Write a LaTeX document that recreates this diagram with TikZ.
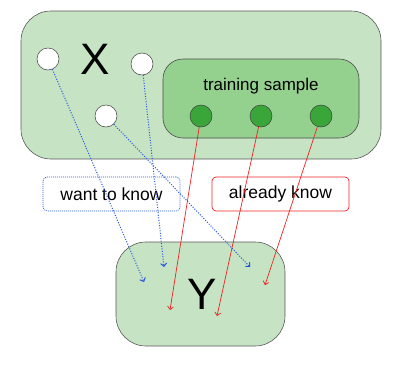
\documentclass[tikz,border=0pt]{standalone}
\usepackage{fontspec}
\setmainfont{Liberation Sans}
\usetikzlibrary{arrows.meta}

\definecolor{setgreen}{HTML}{C6E3C4}
\definecolor{samplegreen}{HTML}{94D18E}
\definecolor{dotgreen}{HTML}{3AA63A}
\definecolor{wantblue}{HTML}{2255E0}
\definecolor{knownred}{HTML}{EE2222}

\tikzset{
  setbox/.style={draw=black!65, fill=setgreen, line width=0.6pt, rounded corners=30pt},
  samplebox/.style={draw=black!70, fill=samplegreen, line width=0.6pt, rounded corners=20pt},
  point/.style={circle, draw=black!75, line width=0.5pt, minimum size=22pt, inner sep=0pt},
  unknown/.style={point, fill=white},
  known/.style={point, fill=dotgreen},
  tagbox/.style={rounded corners=4pt, line width=0.7pt, minimum width=137pt, minimum height=34pt,
    font=\fontsize{17.5}{21}\selectfont},
  want/.style={wantblue, dash pattern=on 1pt off 1.6pt, line width=1pt, -{Straight Barb[length=3pt,width=6pt]}},
  known arrow/.style={knownred, line width=0.7pt, -{Straight Barb[length=3pt,width=6pt]}},
}

\begin{document}
\begin{tikzpicture}[x=1pt, y=-1pt]
\useasboundingbox (0,0) rectangle (394,370);

% inputs
\node[setbox, minimum width=360pt, minimum height=148pt] (xset) at (201,85) {};
\node[font=\fontsize{44}{48}\selectfont] (xlabel) at (95,59) {X};
\node[unknown] (u1) at (48,59) {};
\node[unknown] (u2) at (142,64) {};
\node[unknown] (u3) at (106,116) {};

% the training sample inside X
\node[samplebox, minimum width=196pt, minimum height=79pt] (sample) at (261,98.5) {};
\node[font=\fontsize{17}{20}\selectfont] (samplelabel) at (261,86) {training sample};
\node[known] (k1) at (201,116) {};
\node[known] (k2) at (261,116) {};
\node[known] (k3) at (321,116) {};

% outputs
\node[setbox, minimum width=169pt, minimum height=104pt] (yset) at (200.5,294) {};
\node[font=\fontsize{44}{48}\selectfont] (ylabel) at (202,294) {Y};

% legend
\node[tagbox, draw=wantblue, dash pattern=on 1pt off 1pt] (wantlabel) at (111.5,194) {want to know};
\node[tagbox, draw=knownred] (knownlabel) at (280.5,194) {already know};

% arrow ends inside Y
\coordinate (w1) at (144,282);
\coordinate (w2) at (164,267);
\coordinate (w3) at (250,267);
\coordinate (r1) at (170,310);
\coordinate (r2) at (217,316);
\coordinate (r3) at (265,285);

\draw[want] (u1) -- (w1);
\draw[want] (u2) -- (w2);
\draw[want] (u3) -- (w3);
\draw[known arrow] (k1) -- (r1);
\draw[known arrow] (k2) -- (r2);
\draw[known arrow] (k3) -- (r3);
\end{tikzpicture}
\end{document}
